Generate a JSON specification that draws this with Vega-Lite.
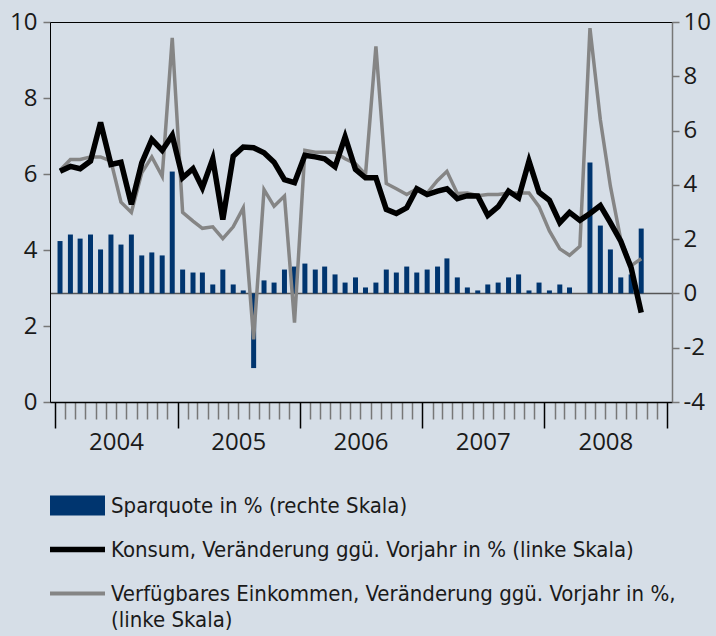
{
  "$schema": "https://vega.github.io/schema/vega-lite/v6.json",
  "width": 622,
  "height": 380,
  "autosize": {"type": "none"},
  "padding": {"left": 50, "top": 22, "right": 44, "bottom": 234},
  "background": "#D6DEE7",
  "config": {
    "view": {"stroke": "#000", "strokeWidth": 1},
    "font": "Open Sans",
    "axis": {"labelColor": "#1a1a1a", "labelFontSize": 24, "labelFont": "Open Sans", "title": null, "labelFlush": false}
  },
  "data": {
    "values": [
      {"d": "2004-01-16", "spar": 1.93, "konsum": 6.07, "eink": 6.10},
      {"d": "2004-02-16", "spar": 2.17, "konsum": 6.20, "eink": 6.38},
      {"d": "2004-03-16", "spar": 2.02, "konsum": 6.14, "eink": 6.38},
      {"d": "2004-04-16", "spar": 2.17, "konsum": 6.34, "eink": 6.45},
      {"d": "2004-05-16", "spar": 1.62, "konsum": 7.36, "eink": 6.45},
      {"d": "2004-06-16", "spar": 2.17, "konsum": 6.25, "eink": 6.34},
      {"d": "2004-07-16", "spar": 1.80, "konsum": 6.31, "eink": 5.26},
      {"d": "2004-08-16", "spar": 2.17, "konsum": 5.20, "eink": 4.99},
      {"d": "2004-09-16", "spar": 1.40, "konsum": 6.29, "eink": 6.03},
      {"d": "2004-10-16", "spar": 1.51, "konsum": 6.91, "eink": 6.45},
      {"d": "2004-11-16", "spar": 1.40, "konsum": 6.62, "eink": 5.94},
      {"d": "2004-12-16", "spar": 4.49, "konsum": 7.02, "eink": 9.58},
      {"d": "2005-01-16", "spar": 0.88, "konsum": 5.90, "eink": 4.99},
      {"d": "2005-02-16", "spar": 0.77, "konsum": 6.14, "eink": 4.76},
      {"d": "2005-03-16", "spar": 0.77, "konsum": 5.64, "eink": 4.57},
      {"d": "2005-04-16", "spar": 0.33, "konsum": 6.40, "eink": 4.61},
      {"d": "2005-05-16", "spar": 0.88, "konsum": 4.80, "eink": 4.30},
      {"d": "2005-06-16", "spar": 0.33, "konsum": 6.47, "eink": 4.61},
      {"d": "2005-07-16", "spar": 0.11, "konsum": 6.71, "eink": 5.11},
      {"d": "2005-08-16", "spar": -2.75, "konsum": 6.69, "eink": 1.65},
      {"d": "2005-09-16", "spar": 0.48, "konsum": 6.56, "eink": 5.59},
      {"d": "2005-10-16", "spar": 0.40, "konsum": 6.31, "eink": 5.15},
      {"d": "2005-11-16", "spar": 0.88, "konsum": 5.85, "eink": 5.42},
      {"d": "2005-12-16", "spar": 0.99, "konsum": 5.77, "eink": 2.09},
      {"d": "2006-01-16", "spar": 1.10, "konsum": 6.49, "eink": 6.62},
      {"d": "2006-02-16", "spar": 0.88, "konsum": 6.45, "eink": 6.57},
      {"d": "2006-03-16", "spar": 0.99, "konsum": 6.40, "eink": 6.57},
      {"d": "2006-04-16", "spar": 0.70, "konsum": 6.19, "eink": 6.57},
      {"d": "2006-05-16", "spar": 0.40, "konsum": 6.98, "eink": 6.40},
      {"d": "2006-06-16", "spar": 0.59, "konsum": 6.12, "eink": 6.27},
      {"d": "2006-07-16", "spar": 0.22, "konsum": 5.90, "eink": 5.99},
      {"d": "2006-08-16", "spar": 0.40, "konsum": 5.90, "eink": 9.36},
      {"d": "2006-09-16", "spar": 0.88, "konsum": 5.07, "eink": 5.75},
      {"d": "2006-10-16", "spar": 0.77, "konsum": 4.96, "eink": 5.61},
      {"d": "2006-11-16", "spar": 0.99, "konsum": 5.11, "eink": 5.46},
      {"d": "2006-12-16", "spar": 0.77, "konsum": 5.61, "eink": 5.61},
      {"d": "2007-01-16", "spar": 0.88, "konsum": 5.46, "eink": 5.50},
      {"d": "2007-02-16", "spar": 0.99, "konsum": 5.55, "eink": 5.83},
      {"d": "2007-03-16", "spar": 1.29, "konsum": 5.61, "eink": 6.07},
      {"d": "2007-04-16", "spar": 0.59, "konsum": 5.35, "eink": 5.49},
      {"d": "2007-05-16", "spar": 0.22, "konsum": 5.43, "eink": 5.50},
      {"d": "2007-06-16", "spar": 0.11, "konsum": 5.42, "eink": 5.43},
      {"d": "2007-07-16", "spar": 0.33, "konsum": 4.91, "eink": 5.46},
      {"d": "2007-08-16", "spar": 0.40, "konsum": 5.14, "eink": 5.46},
      {"d": "2007-09-16", "spar": 0.59, "konsum": 5.55, "eink": 5.50},
      {"d": "2007-10-16", "spar": 0.70, "konsum": 5.37, "eink": 5.50},
      {"d": "2007-11-16", "spar": 0.11, "konsum": 6.34, "eink": 5.50},
      {"d": "2007-12-16", "spar": 0.40, "konsum": 5.52, "eink": 5.14},
      {"d": "2008-01-16", "spar": 0.11, "konsum": 5.31, "eink": 4.50},
      {"d": "2008-02-16", "spar": 0.33, "konsum": 4.72, "eink": 4.03},
      {"d": "2008-03-16", "spar": 0.22, "konsum": 4.99, "eink": 3.86},
      {"d": "2008-04-16", "spar": 0, "konsum": 4.78, "eink": 4.10},
      {"d": "2008-05-16", "spar": 4.82, "konsum": 4.96, "eink": 9.84},
      {"d": "2008-06-16", "spar": 2.50, "konsum": 5.17, "eink": 7.43},
      {"d": "2008-07-16", "spar": 1.62, "konsum": 4.72, "eink": 5.68},
      {"d": "2008-08-16", "spar": 0.59, "konsum": 4.23, "eink": 4.27},
      {"d": "2008-09-16", "spar": 0.70, "konsum": 3.53, "eink": 3.59},
      {"d": "2008-10-16", "spar": 2.39, "konsum": 2.35, "eink": 3.77}
    ]
  },
  "layer": [
    {
      "mark": {"type": "bar", "size": 5},
      "encoding": {
        "x": {
          "field": "d", "type": "temporal",
          "scale": {"domain": [{"year": 2004, "month": 1, "date": 1}, {"year": 2009, "month": 1, "date": 1}], "nice": false},
          "axis": {
            "tickCount": {"interval": "month", "step": 1},
            "grid": false,
            "domainColor": "#000", "domainWidth": 1.5,
            "tickColor": {"condition": {"test": "month(datum.value) == 0", "value": "#000"}, "value": "#777"},
            "tickSize": {"condition": {"test": "month(datum.value) == 0", "value": 26}, "value": 17},
            "tickWidth": 1.5,
            "labelExpr": "month(datum.value) == 6 ? timeFormat(datum.value, '%Y') : ''",
            "labelOverlap": false,
            "labelPadding": 11
          }
        },
        "y": {
          "field": "spar", "type": "quantitative",
          "scale": {"domain": [-4, 10], "nice": false, "zero": false},
          "axis": {
            "orient": "right",
            "values": [-4, -2, 0, 2, 4, 6, 8, 10],
            "labelExpr": "datum.value + ''",
            "domainColor": "#777", "domainWidth": 1.5,
            "tickColor": "#777", "tickSize": 7, "tickWidth": 1.5,
            "labelPadding": 4,
            "grid": true,
            "gridColor": "#555", "gridWidth": 1.5,
            "gridOpacity": {"condition": {"test": "datum.value === 0", "value": 1}, "value": 0}
          }
        },
        "color": {
          "datum": "Sparquote in % (rechte Skala)",
          "type": "nominal",
          "scale": {
            "domain": ["Sparquote in % (rechte Skala)", "Konsum, Veränderung ggü. Vorjahr in % (linke Skala)", "Verfügbares Einkommen, Veränderung ggü. Vorjahr in %, (linke Skala)"],
            "range": ["#00356F", "#000000", "#858585"]
          },
          "legend": {
            "orient": "none",
            "legendX": 0,
            "legendY": 456,
            "title": null,
            "padding": 0,
            "direction": "vertical",
            "symbolType": "M-1,-0.364H1V0.364H-1Z",
            "symbolSize": 3025,
            "symbolStrokeWidth": 0,
            "labelFont": "Liberation Sans Narrow, DejaVu Sans Condensed, Roboto Condensed, Liberation Sans",
            "labelFontSize": 22,
            "labelColor": "#1a1a1a",
            "labelLimit": 0,
            "labelOffset": 6,
            "rowPadding": 5,
            "labelExpr": "datum.label == 'Verfügbares Einkommen, Veränderung ggü. Vorjahr in %, (linke Skala)' ? ['Verfügbares Einkommen, Veränderung ggü. Vorjahr in %,', '(linke Skala)'] : datum.label",
            "encode": {
              "symbols": {
                "update": {
                  "shape": {"signal": "datum.value == 'Sparquote in % (rechte Skala)' ? 'M-1,-0.364H1V0.364H-1Z' : datum.value == 'Konsum, Veränderung ggü. Vorjahr in % (linke Skala)' ? 'M-1,-0.1H1V0.1H-1Z' : 'M-1,-0.075H1V0.075H-1Z'"},
                  "fill": {"scale": "color", "field": "value"},
                  "strokeWidth": {"value": 0},
                  "opacity": {"value": 1},
                  "fillOpacity": {"value": 1}
                }
              },
              "labels": {
                "update": {
                  "lineHeight": {"value": 26}
                }
              }
            }
          }
        }
      }
    },
    {
      "layer": [
        {
          "mark": {"type": "line", "strokeWidth": 3.5},
          "encoding": {
            "x": {"field": "d", "type": "temporal"},
            "y": {
              "field": "eink", "type": "quantitative",
              "scale": {"domain": [0, 10], "nice": false},
              "axis": {
                "orient": "left",
                "values": [0, 2, 4, 6, 8, 10],
                "domainColor": "#000", "domainWidth": 1,
                "tickColor": "#777", "tickSize": 7, "tickWidth": 1.5,
                "labelPadding": 6,
                "grid": false
              }
            },
            "color": {"datum": "Verfügbares Einkommen, Veränderung ggü. Vorjahr in %, (linke Skala)", "type": "nominal"}
          }
        },
        {
          "mark": {"type": "line", "strokeWidth": 5.5},
          "encoding": {
            "x": {"field": "d", "type": "temporal"},
            "y": {"field": "konsum", "type": "quantitative"},
            "color": {"datum": "Konsum, Veränderung ggü. Vorjahr in % (linke Skala)", "type": "nominal"}
          }
        }
      ]
    }
  ],
  "resolve": {"scale": {"y": "independent"}}
}
